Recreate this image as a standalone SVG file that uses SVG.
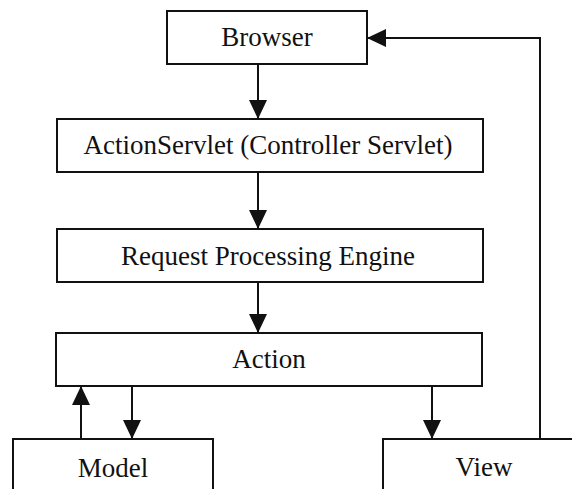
<svg xmlns="http://www.w3.org/2000/svg" width="572" height="489" viewBox="0 0 572 489">
  <style>
    .box { fill: #ffffff; stroke: #111111; stroke-width: 2; }
    .label { font-family: "Liberation Serif", "Times New Roman", serif; font-size: 27px; fill: #111111; text-anchor: middle; }
    .wire { fill: none; stroke: #111111; stroke-width: 2; marker-end: url(#head); }
  </style>
  <defs>
    <marker id="head" viewBox="0 0 19 18" refX="19" refY="9" markerWidth="19" markerHeight="18" markerUnits="userSpaceOnUse" orient="auto">
      <path d="M0,0 L19,9 L0,18 Z" fill="#111111"/>
    </marker>
  </defs>
  <rect width="572" height="489" fill="#ffffff"/>

  <g id="connectors">
    <line class="wire" x1="258" y1="64" x2="258" y2="119"/>
    <line class="wire" x1="258" y1="172" x2="258" y2="229"/>
    <line class="wire" x1="258" y1="282" x2="258" y2="333"/>
    <line class="wire" x1="81" y1="439" x2="81" y2="386"/>
    <line class="wire" x1="132" y1="386" x2="132" y2="439"/>
    <line class="wire" x1="432" y1="386" x2="432" y2="439"/>
    <polyline class="wire" points="540,439 540,38 367,38"/>
  </g>

  <g id="browser">
    <rect class="box" x="167" y="11" width="200" height="53"/>
    <text class="label" x="267" y="46">Browser</text>
  </g>
  <g id="action-servlet">
    <rect class="box" x="57" y="119" width="426" height="53"/>
    <text class="label" x="268" y="154">ActionServlet (Controller Servlet)</text>
  </g>
  <g id="request-processing-engine">
    <rect class="box" x="57" y="229" width="426" height="53"/>
    <text class="label" x="268" y="265">Request Processing Engine</text>
  </g>
  <g id="action">
    <rect class="box" x="56" y="333" width="426" height="53"/>
    <text class="label" x="269" y="368">Action</text>
  </g>
  <g id="model">
    <rect class="box" x="13" y="439" width="200" height="70"/>
    <text class="label" x="113" y="477">Model</text>
  </g>
  <g id="view">
    <rect class="box" x="383" y="439" width="202" height="70"/>
    <text class="label" x="484" y="476">View</text>
  </g>
</svg>
